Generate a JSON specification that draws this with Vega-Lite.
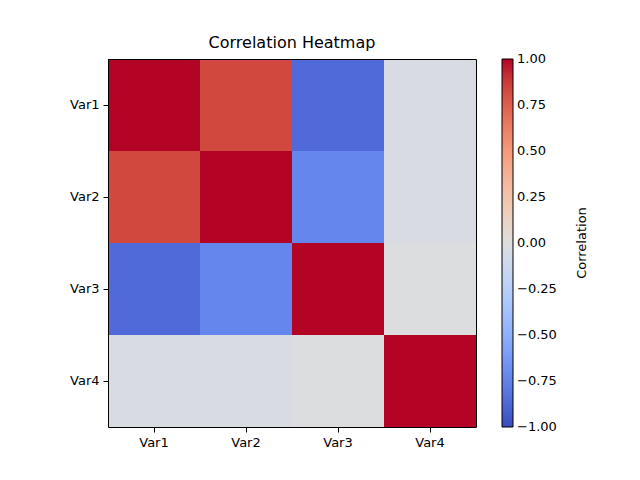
{
  "$schema": "https://vega.github.io/schema/vega-lite/v6.json",
  "width": 368,
  "height": 368,
  "autosize": {"type": "none"},
  "padding": {"left": 108, "top": 59, "right": 164, "bottom": 53},
  "title": {"text": "Correlation Heatmap", "font": "DejaVu Sans", "fontSize": 16, "fontWeight": "normal", "color": "black", "offset": 8},
  "config": {
    "font": "DejaVu Sans",
    "view": {"stroke": null},
    "axis": {"grid": false, "domain": true, "domainColor": "black", "domainWidth": 1, "tickColor": "black", "tickSize": 5, "labelColor": "black", "labelFontSize": 13, "labelFont": "DejaVu Sans", "title": null, "labelPadding": 4}
  },
  "data": {
    "values": [
      {"row": "Var1", "col": "Var1", "corr": 1.0},
      {"row": "Var1", "col": "Var2", "corr": 0.84},
      {"row": "Var1", "col": "Var3", "corr": -0.86},
      {"row": "Var1", "col": "Var4", "corr": -0.04},
      {"row": "Var2", "col": "Var1", "corr": 0.84},
      {"row": "Var2", "col": "Var2", "corr": 1.0},
      {"row": "Var2", "col": "Var3", "corr": -0.73},
      {"row": "Var2", "col": "Var4", "corr": -0.04},
      {"row": "Var3", "col": "Var1", "corr": -0.86},
      {"row": "Var3", "col": "Var2", "corr": -0.73},
      {"row": "Var3", "col": "Var3", "corr": 1.0},
      {"row": "Var3", "col": "Var4", "corr": -0.005},
      {"row": "Var4", "col": "Var1", "corr": -0.04},
      {"row": "Var4", "col": "Var2", "corr": -0.04},
      {"row": "Var4", "col": "Var3", "corr": -0.005},
      {"row": "Var4", "col": "Var4", "corr": 1.0}
    ]
  },
  "layer": [
    {
      "mark": {"type": "rect"},
      "encoding": {
        "x": {"field": "col", "type": "nominal", "sort": ["Var1", "Var2", "Var3", "Var4"], "scale": {"paddingInner": 0, "paddingOuter": 0}, "axis": {"labelAngle": 0, "orient": "bottom", "zindex": 1}},
        "y": {"field": "row", "type": "nominal", "sort": ["Var1", "Var2", "Var3", "Var4"], "scale": {"paddingInner": 0, "paddingOuter": 0}, "axis": {"orient": "left", "zindex": 1}},
        "color": {
          "field": "corr",
          "type": "quantitative",
          "scale": {
            "domain": [-1, -0.875, -0.75, -0.625, -0.5, -0.375, -0.25, -0.125, 0, 0.125, 0.25, 0.375, 0.5, 0.625, 0.75, 0.875, 1],
            "range": ["#3b4cc0", "#4d68d7", "#6282ea", "#779af7", "#8db0fe", "#a3c2ff", "#b8d0f9", "#ccd9ee", "#dddddd", "#ecd3c5", "#f5c4ac", "#f7b194", "#f49a7b", "#ec7f63", "#de604d", "#cb3e38", "#b40426"],
            "interpolate": "rgb"
          },
          "legend": {
            "title": "Correlation",
            "titleOrient": "right",
            "titleFontSize": 13,
            "titleFontWeight": "normal",
            "titleColor": "black",
            "titleFont": "DejaVu Sans",
            "titlePadding": 32,
            "gradientLength": 368,
            "gradientThickness": 11,
            "gradientStrokeColor": "black",
            "gradientStrokeWidth": 1,
            "values": [-1, -0.75, -0.5, -0.25, 0, 0.25, 0.5, 0.75, 1],
            "format": ".2f",
            "labelFontSize": 13,
            "labelColor": "black",
            "labelFont": "DejaVu Sans",
            "labelOffset": 4,
            "offset": 26,
            "padding": 0,
            "encode": {
              "title": {"update": {"angle": {"value": -90}}},
              "labels": {"update": {"baseline": {"value": "middle"}}}
            }
          }
        }
      }
    },
    {
      "mark": {"type": "rect", "opacity": 0},
      "encoding": {
        "x": {"field": "col", "type": "nominal", "sort": ["Var1", "Var2", "Var3", "Var4"], "scale": {"paddingInner": 0, "paddingOuter": 0}, "axis": {"orient": "top", "labels": false, "ticks": false, "zindex": 1}},
        "y": {"field": "row", "type": "nominal", "sort": ["Var1", "Var2", "Var3", "Var4"], "scale": {"paddingInner": 0, "paddingOuter": 0}, "axis": {"orient": "right", "labels": false, "ticks": false, "zindex": 1}}
      }
    }
  ],
  "resolve": {"axis": {"x": "independent", "y": "independent"}}
}
